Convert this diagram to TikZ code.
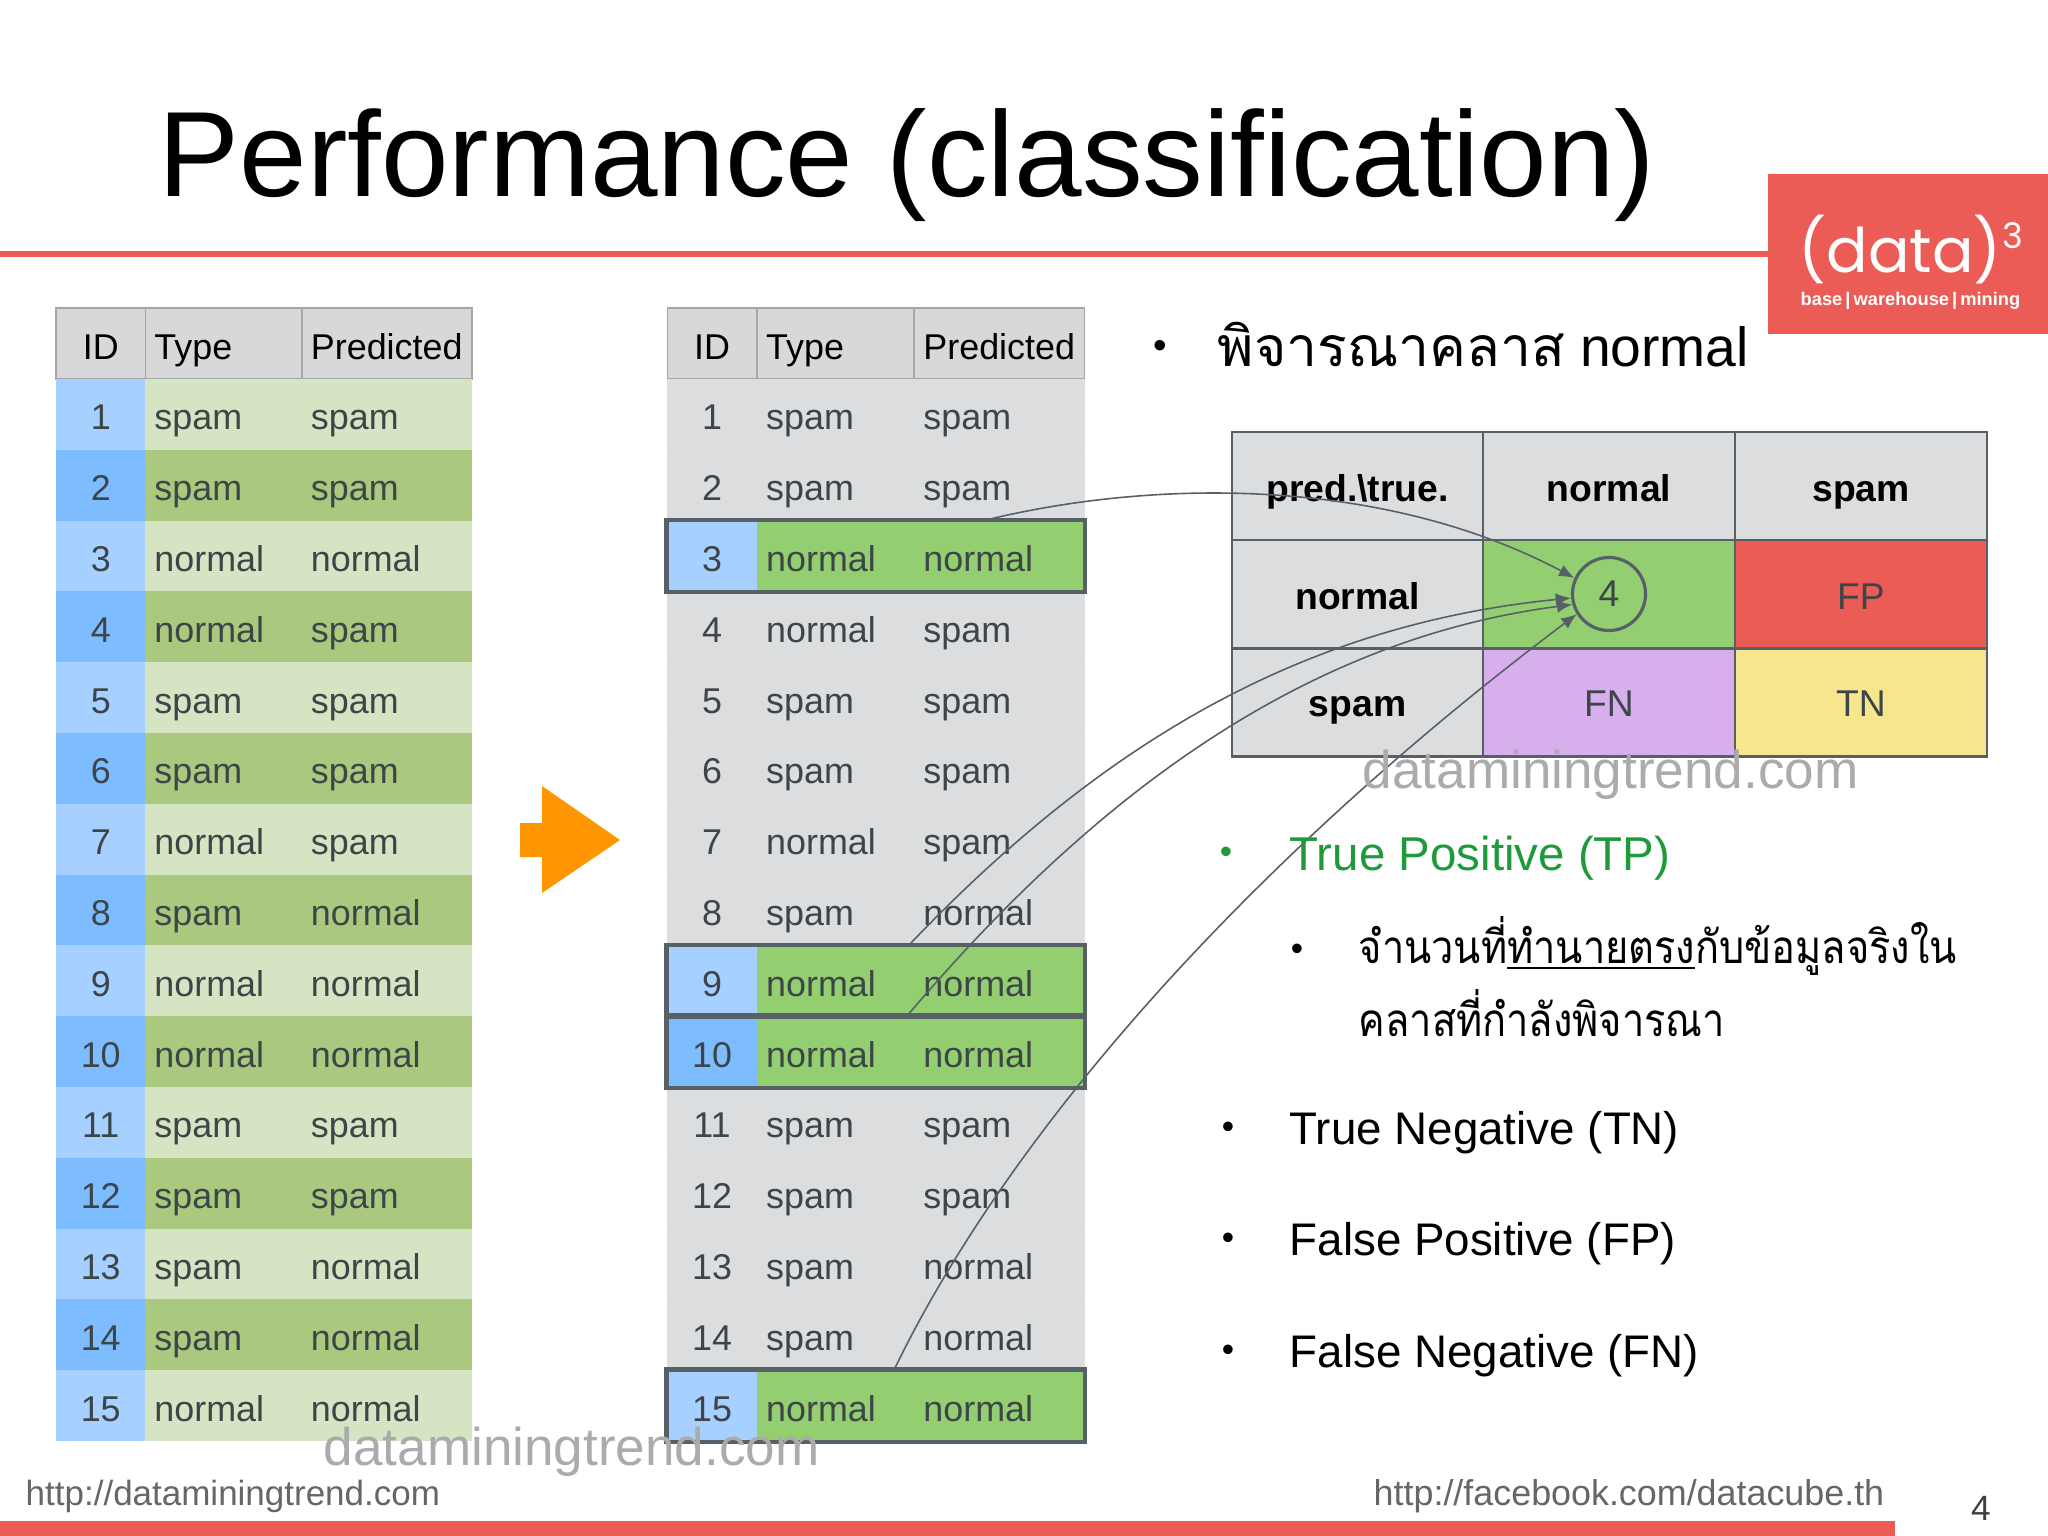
\documentclass[tikz,border=0pt]{standalone}
\usepackage{fontspec}
\usepackage{xcolor}
\usepackage{tikz}
\usetikzlibrary{arrows.meta}
\setmainfont{Liberation Sans}
\newfontfamily\thaifont[Script=Thai]{Loma}
\newfontfamily\thainarrow[Script=Thai,FakeStretch=0.87]{Loma}
\newfontfamily\logofont{Poppins}

\definecolor{headgray}{HTML}{D8D7DA}
\definecolor{cellgray}{HTML}{DCDDDF}
\definecolor{lineblue}{HTML}{A6D0FF}
\definecolor{darkblue}{HTML}{7DBCFF}
\definecolor{palegreen}{HTML}{D5E5C3}
\definecolor{midgreen}{HTML}{AAC97F}
\definecolor{hitgreen}{HTML}{93CE70}
\definecolor{slidered}{HTML}{EC5C57}
\definecolor{fnpurple}{HTML}{D6AFEC}
\definecolor{tnyellow}{HTML}{F8E68E}
\definecolor{boxgray}{HTML}{566066}
\definecolor{celltext}{HTML}{3D4548}
\definecolor{markgray}{HTML}{ABABAB}
\definecolor{tpgreen}{HTML}{1F9A3A}
\definecolor{arroworange}{HTML}{FF9500}

\tikzset{
    cellbase/.style={inner sep=0pt, minimum height=0.708cm, text height=0.33cm,
        text depth=0.02cm, text=celltext, font=\fontsize{10.2}{12}\selectfont},
    idcell/.style={cellbase, minimum width=0.895cm, align=center},
    typecell/.style={cellbase, minimum width=1.565cm, inner xsep=0.09cm, text width=1.385cm, align=left},
    predcell/.style={cellbase, minimum width=1.70cm, inner xsep=0.09cm, text width=1.52cm, align=left},
    headrow/.style={fill=headgray, draw=gray!70, line width=0.35pt, text=black, minimum height=0.71cm},
    matcell/.style={draw=boxgray, line width=0.6pt, minimum width=2.515cm, minimum height=1.08cm,
        inner sep=0pt, text height=0.33cm, text depth=0.02cm,
        font=\fontsize{10.6}{12}\selectfont, text=celltext},
    matlabel/.style={matcell, fill=cellgray, text=black, font=\bfseries\fontsize{10.6}{12}\selectfont},
    hitbox/.style={draw=boxgray, line width=1.2pt},
    tolink/.style={draw=boxgray, line width=0.45pt, -{Latex[length=4.4pt,width=3.6pt]}},
    bigline/.style={anchor=base west, inner sep=0pt, font=\fontsize{13}{16}\selectfont},
    dotmark/.style={anchor=center, inner sep=0pt, font=\fontsize{10}{12}\selectfont},
    thailine/.style={anchor=base west, inner sep=0pt, font=\fontsize{13}{16}\selectfont},
    webmark/.style={anchor=base west, inner sep=0pt, text=markgray, font=\fontsize{15.1}{18}\selectfont},
    footlink/.style={anchor=base west, inner sep=0pt, text=black!60, font=\fontsize{9.95}{12}\selectfont}
}

\begin{document}
\begin{tikzpicture}[x=0.01cm, y=-0.01cm]
\useasboundingbox (0,0) rectangle (2048,1536);

% Title and red bars
\node[anchor=base west, inner sep=0pt, font=\fontsize{34.5}{40}\selectfont] (title) at (158,196) {Performance (classification)};
\fill[slidered] (0,250.5) rectangle (1768,256.5);
\fill[slidered] (0,1521) rectangle (1895,1536);
\fill[slidered] (1768,174) rectangle (2048,334);

% Logo
\node[anchor=base west, inner sep=0pt, text=white, font=\logofont\fontsize{17.5}{22}\selectfont] (logo) at (1798,272) {(data)};
\node[anchor=base west, inner sep=0pt, text=white, font=\logofont\fontsize{10}{12}\selectfont] (logothree) at (2002,248) {3};
\node[anchor=base west, inner sep=0pt, text=white, font=\bfseries\fontsize{5.2}{7}\selectfont] (logosub) at (1800,305) {base\,|\,warehouse\,|\,mining};

% Left table
\node[idcell, headrow, align=center] (left-id) at (100.75,343.5) {ID};
\node[typecell, headrow] (left-type) at (223.75,343.5) {Type};
\node[predcell, headrow] (left-pred) at (387,343.5) {Predicted};
\foreach \id/\ttype/\pred/\blue/\green in {1/spam/spam/lineblue/palegreen, 2/spam/spam/darkblue/midgreen,
    3/normal/normal/lineblue/palegreen, 4/normal/spam/darkblue/midgreen, 5/spam/spam/lineblue/palegreen,
    6/spam/spam/darkblue/midgreen, 7/normal/spam/lineblue/palegreen, 8/spam/normal/darkblue/midgreen,
    9/normal/normal/lineblue/palegreen, 10/normal/normal/darkblue/midgreen, 11/spam/spam/lineblue/palegreen,
    12/spam/spam/darkblue/midgreen, 13/spam/normal/lineblue/palegreen, 14/spam/normal/darkblue/midgreen,
    15/normal/normal/lineblue/palegreen}
{
    \pgfmathsetmacro{\rowy}{414.4+70.8*(\id-1)}
    \node[idcell, fill=\blue] (left\id-id) at (100.75,\rowy) {\id};
    \node[typecell, fill=\green] (left\id-type) at (223.75,\rowy) {\ttype};
    \node[predcell, fill=\green] (left\id-pred) at (387,\rowy) {\pred};
}

% Orange arrow
\fill[arroworange] (520,823) -- (542,823) -- (542,786) -- (620,840) -- (542,893) -- (542,857) -- (520,857) -- cycle;

% Middle table
\node[idcell, headrow] (mid-id) at (712,343.5) {ID};
\node[typecell, headrow] (mid-type) at (835.5,343.5) {Type};
\node[predcell, headrow] (mid-pred) at (999.5,343.5) {Predicted};
\foreach \id/\ttype/\pred/\blue/\green in {1/spam/spam/cellgray/cellgray, 2/spam/spam/cellgray/cellgray,
    3/normal/normal/lineblue/hitgreen, 4/normal/spam/cellgray/cellgray, 5/spam/spam/cellgray/cellgray,
    6/spam/spam/cellgray/cellgray, 7/normal/spam/cellgray/cellgray, 8/spam/normal/cellgray/cellgray,
    9/normal/normal/lineblue/hitgreen, 10/normal/normal/darkblue/hitgreen, 11/spam/spam/cellgray/cellgray,
    12/spam/spam/cellgray/cellgray, 13/spam/normal/cellgray/cellgray, 14/spam/normal/cellgray/cellgray,
    15/normal/normal/lineblue/hitgreen}
{
    \pgfmathsetmacro{\rowy}{414.4+70.8*(\id-1)}
    \node[idcell, fill=\blue] (mid\id-id) at (712,\rowy) {\id};
    \node[typecell, fill=\green] (mid\id-type) at (835.5,\rowy) {\ttype};
    \node[predcell, fill=\green] (mid\id-pred) at (999.5,\rowy) {\pred};
}
\foreach \id in {1,...,14}
    \draw[gray!30, line width=0.25pt] (mid\id-id.south west) -- (mid\id-pred.south east);
\foreach \id in {3,9,10,15}
    \draw[hitbox] (mid\id-id.north west) rectangle (mid\id-pred.south east);

% Confusion matrix
\node[matlabel] (corner) at (1357.5,486) {pred.\textbackslash true.};
\node[matlabel] (truenormal) at (1609,486) {normal};
\node[matlabel] (truespam) at (1861,486) {spam};
\node[matlabel, text depth=0.03cm] (prednormal) at (1357.5,594) {normal};
\node[matcell, fill=hitgreen] (tp) at (1609,594) {};
\node[matcell, fill=slidered, text depth=0.03cm] (fp) at (1861,594) {FP};
\node[matlabel, text depth=0.05cm] (predspam) at (1357.5,702.5) {spam};
\node[matcell, fill=fnpurple, text depth=0.05cm] (fn) at (1609,702.5) {FN};
\node[matcell, fill=tnyellow, text depth=0.05cm] (tn) at (1861,702.5) {TN};
\node[circle, draw=boxgray, line width=0.9pt, minimum size=0.73cm, inner sep=0pt, text=celltext,
    font=\fontsize{10.6}{12}\selectfont] (count) at (1609,594) {4};

% Arrows from the rows to the count
\coordinate (from3) at (986,520);
\coordinate (from9) at (909,945);
\coordinate (from10) at (907,1016);
\coordinate (from15) at (894,1370);
\draw[tolink] (from3) .. controls (1150,480) and (1380,475) .. (count.155);
\draw[tolink] (from9) .. controls (1100,745) and (1300,625) .. (count.186);
\draw[tolink] (from10) .. controls (1090,800) and (1300,640) .. (count.196);
\draw[tolink] (from15) .. controls (1010,1130) and (1250,860) .. (count.212);

% Right hand text
\node[dotmark, font=\fontsize{11}{13}\selectfont] (dotclass) at (1160,349) {•};
\node[anchor=base west, inner sep=0pt, font=\fontsize{15.7}{18}\selectfont] (classline) at (1217,366) {{\thaifont พิจารณาคลาส} normal};
\node[dotmark, text=tpgreen] (dottp) at (1226,855) {•};
\node[bigline, text=tpgreen, font=\fontsize{13.5}{16}\selectfont] (tpline) at (1289,870) {True Positive (TP)};
\node[dotmark] (dotsub) at (1297,952) {•};
\node[thailine] (subone) at (1358,963) {\thainarrow จำนวนที่\underline{ทำนายตรง}กับข้อมูลจริงใน};
\node[thailine] (subtwo) at (1358,1036) {\thainarrow คลาสที่กำลังพิจารณา};
\node[dotmark] (dottn) at (1228,1130) {•};
\node[bigline] (tnline) at (1289,1144) {True Negative (TN)};
\node[dotmark] (dotfp) at (1228,1241) {•};
\node[bigline] (fpline) at (1289,1255) {False Positive (FP)};
\node[dotmark] (dotfn) at (1228,1353) {•};
\node[bigline] (fnline) at (1289,1367) {False Negative (FN)};

% Watermarks and footer
\node[webmark] (markright) at (1362,788) {dataminingtrend.com};
\node[webmark] (markleft) at (323,1465) {dataminingtrend.com};
\node[footlink] (footleft) at (25,1505) {http://dataminingtrend.com};
\node[footlink, font=\fontsize{10.2}{12}\selectfont] (footright) at (1373,1505) {http://facebook.com/datacube.th};
\node[inner sep=0pt, text=black!75, font=\fontsize{10}{12}\selectfont] (pagenum) at (1981,1508) {4};

\end{tikzpicture}
\end{document}
